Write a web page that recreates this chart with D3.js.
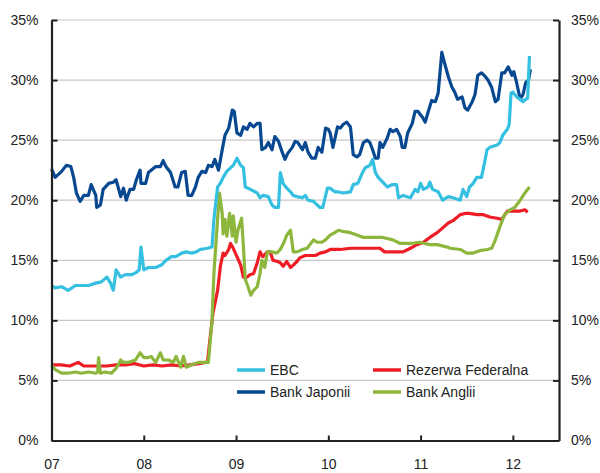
<!DOCTYPE html>
<html><head><meta charset="utf-8">
<script src="https://cdn.jsdelivr.net/npm/d3@7"></script>
<style>
html,body{margin:0;padding:0;background:#fff;}
svg{display:block;font-family:"Liberation Sans",Arial,sans-serif;}
</style></head>
<body><svg id="c" width="600" height="473"></svg>
<script>
// ---- data (decimal year, % ) ----
const xTickYears = [2007, 2008, 2009, 2010, 2011, 2012];
const xTickLabels = ["07", "08", "09", "10", "11", "12"];
const yTicks = [0, 5, 10, 15, 20, 25, 30, 35];
const seriesNames = ["EBC", "Bank Japonii", "Rezerwa Federalna", "Bank Anglii"];
const seriesColors = ["#35BFE0", "#084891", "#EE1C25", "#8DB63C"];

const ebcData = [
[2007.00,12.9],[2007.04,12.7],[2007.11,12.8],[2007.18,12.5],[2007.26,12.9],[2007.32,12.9],[2007.40,12.9],
[2007.48,13.1],[2007.54,13.2],[2007.60,13.6],[2007.64,13.1],[2007.67,12.5],[2007.70,14.2],[2007.75,13.6],
[2007.80,13.8],[2007.87,13.8],[2007.92,14.0],[2007.95,14.2],[2007.97,16.1],[2008.00,14.2],[2008.05,14.4],
[2008.13,14.4],[2008.19,14.6],[2008.24,15.0],[2008.30,15.3],[2008.34,15.3],[2008.37,15.4],[2008.41,15.6],
[2008.46,15.7],[2008.52,15.6],[2008.57,15.7],[2008.61,15.9],[2008.69,16.0],[2008.74,16.1],[2008.76,18.4],
[2008.80,21.1],[2008.83,21.4],[2008.86,21.9],[2008.90,22.4],[2008.94,22.7],[2008.97,22.9],[2009.01,23.5],
[2009.05,22.9],[2009.08,22.7],[2009.10,21.1],[2009.13,21.0],[2009.18,20.8],[2009.23,20.6],[2009.26,20.2],
[2009.29,20.4],[2009.35,20.3],[2009.39,19.6],[2009.42,19.4],[2009.46,19.4],[2009.48,22.3],[2009.51,21.4],
[2009.55,21.0],[2009.59,20.7],[2009.62,20.4],[2009.66,20.3],[2009.72,20.2],[2009.75,20.4],[2009.78,20.0],
[2009.84,19.9],[2009.88,19.6],[2009.91,19.4],[2009.94,19.4],[2009.99,21.0],[2010.02,21.0],[2010.07,20.7],
[2010.10,20.7],[2010.16,20.6],[2010.24,20.7],[2010.27,21.3],[2010.32,21.4],[2010.37,22.3],[2010.40,22.7],
[2010.45,22.9],[2010.48,23.4],[2010.51,22.3],[2010.54,21.9],[2010.59,21.5],[2010.64,21.1],[2010.69,21.3],
[2010.74,21.3],[2010.76,20.2],[2010.81,20.4],[2010.89,20.2],[2010.94,20.9],[2010.97,20.7],[2011.00,21.4],
[2011.03,20.9],[2011.08,21.1],[2011.10,21.5],[2011.13,20.9],[2011.19,20.7],[2011.24,20.0],[2011.30,20.3],
[2011.35,20.2],[2011.43,20.0],[2011.46,20.9],[2011.50,20.3],[2011.53,21.1],[2011.57,21.4],[2011.61,21.9],
[2011.66,21.9],[2011.70,23.4],[2011.72,24.2],[2011.75,24.4],[2011.83,24.6],[2011.86,24.8],[2011.89,25.4],
[2011.94,25.9],[2011.96,26.3],[2011.98,28.9],[2012.00,29.0],[2012.04,28.6],[2012.08,28.4],[2012.11,28.2],
[2012.14,28.4],[2012.16,28.5],[2012.18,32.0]
];

const bojData = [
[2007.00,22.6],[2007.04,21.9],[2007.11,22.4],[2007.16,22.9],[2007.21,22.8],[2007.24,21.9],[2007.27,20.6],
[2007.31,19.9],[2007.35,20.4],[2007.40,20.4],[2007.43,21.3],[2007.48,20.4],[2007.49,19.4],[2007.53,19.6],
[2007.56,20.9],[2007.62,21.4],[2007.67,21.5],[2007.70,21.7],[2007.75,20.3],[2007.78,21.0],[2007.81,20.0],
[2007.85,20.9],[2007.89,20.9],[2007.92,21.7],[2007.96,22.5],[2007.97,21.4],[2008.02,21.4],[2008.05,22.3],
[2008.13,22.8],[2008.18,22.8],[2008.21,23.3],[2008.24,22.8],[2008.29,22.3],[2008.34,21.1],[2008.37,21.1],
[2008.41,22.3],[2008.45,22.4],[2008.48,20.4],[2008.52,20.4],[2008.56,21.1],[2008.59,21.9],[2008.63,22.4],
[2008.67,22.3],[2008.70,22.9],[2008.74,22.8],[2008.77,23.4],[2008.81,22.5],[2008.85,24.2],[2008.88,25.4],
[2008.92,26.0],[2008.96,27.5],[2008.98,27.4],[2009.01,25.6],[2009.05,25.4],[2009.08,26.1],[2009.12,25.9],
[2009.15,26.4],[2009.19,26.1],[2009.23,26.4],[2009.26,26.4],[2009.28,24.2],[2009.32,24.4],[2009.35,24.8],
[2009.39,24.2],[2009.42,25.3],[2009.46,24.9],[2009.50,24.0],[2009.53,23.4],[2009.56,23.9],[2009.61,24.4],
[2009.64,24.9],[2009.67,24.8],[2009.72,24.2],[2009.75,24.8],[2009.78,24.0],[2009.82,23.5],[2009.86,23.5],
[2009.89,24.4],[2009.93,24.0],[2009.97,26.0],[2010.00,25.9],[2010.02,25.6],[2010.05,24.4],[2010.10,26.1],
[2010.13,26.0],[2010.16,26.3],[2010.20,26.5],[2010.24,26.1],[2010.27,23.8],[2010.31,23.6],[2010.34,23.8],
[2010.38,24.8],[2010.42,25.0],[2010.45,24.8],[2010.48,24.2],[2010.51,23.5],[2010.54,23.5],[2010.56,24.8],
[2010.59,24.4],[2010.64,25.2],[2010.67,25.9],[2010.70,25.7],[2010.74,25.9],[2010.78,25.3],[2010.80,24.4],
[2010.83,24.4],[2010.86,25.6],[2010.91,26.4],[2010.94,27.4],[2010.97,27.4],[2011.02,26.9],[2011.05,26.5],
[2011.08,27.3],[2011.12,28.3],[2011.16,28.2],[2011.19,28.9],[2011.23,32.3],[2011.26,31.4],[2011.30,30.3],
[2011.34,29.4],[2011.37,29.0],[2011.40,28.4],[2011.45,28.6],[2011.48,27.7],[2011.51,27.5],[2011.56,28.2],
[2011.59,28.8],[2011.62,30.4],[2011.66,30.6],[2011.70,30.3],[2011.73,30.0],[2011.77,29.4],[2011.81,28.2],
[2011.84,28.4],[2011.88,30.6],[2011.91,30.6],[2011.95,31.1],[2011.99,30.4],[2012.01,30.7],[2012.04,29.8],
[2012.08,28.4],[2012.11,28.8],[2012.14,29.8],[2012.17,30.0],[2012.19,30.9]
];

const fedData = [
[2007.00,6.3],[2007.10,6.3],[2007.20,6.2],[2007.29,6.5],[2007.35,6.2],[2007.50,6.2],[2007.60,6.2],
[2007.70,6.3],[2007.80,6.3],[2007.90,6.4],[2008.00,6.2],[2008.10,6.3],[2008.20,6.2],[2008.30,6.3],
[2008.40,6.2],[2008.50,6.3],[2008.60,6.4],[2008.67,6.5],[2008.69,6.5],[2008.72,8.6],[2008.75,10.6],
[2008.80,12.5],[2008.83,14.5],[2008.86,15.6],[2008.88,15.4],[2008.92,15.9],[2008.94,16.4],[2008.97,16.0],
[2009.01,15.3],[2009.05,14.6],[2009.08,13.6],[2009.12,13.6],[2009.15,13.8],[2009.19,13.9],[2009.23,14.8],
[2009.26,15.7],[2009.29,15.3],[2009.34,15.7],[2009.37,15.7],[2009.40,15.0],[2009.45,14.9],[2009.48,14.8],
[2009.51,14.5],[2009.55,14.9],[2009.59,14.4],[2009.62,14.6],[2009.66,14.9],[2009.69,15.2],[2009.75,15.4],
[2009.80,15.4],[2009.86,15.4],[2009.91,15.6],[2009.97,15.7],[2010.02,15.9],[2010.13,15.9],[2010.24,16.0],
[2010.34,16.0],[2010.45,16.0],[2010.56,16.0],[2010.61,15.7],[2010.74,15.7],[2010.81,15.7],[2010.89,16.0],
[2010.96,16.3],[2011.03,16.5],[2011.10,16.9],[2011.18,17.3],[2011.24,17.7],[2011.30,18.1],[2011.35,18.3],
[2011.43,18.8],[2011.48,18.9],[2011.53,18.9],[2011.61,18.8],[2011.68,18.8],[2011.75,18.6],[2011.83,18.5],
[2011.88,18.4],[2011.94,19.1],[2012.00,19.1],[2012.08,19.1],[2012.13,19.2],[2012.16,19.0]
];

const boeData = [
[2007.00,6.3],[2007.04,5.9],[2007.11,5.6],[2007.18,5.6],[2007.26,5.7],[2007.32,5.6],[2007.40,5.7],
[2007.48,5.6],[2007.50,5.7],[2007.51,6.9],[2007.53,5.6],[2007.58,5.7],[2007.65,5.6],[2007.70,6.0],
[2007.75,6.7],[2007.78,6.5],[2007.83,6.5],[2007.91,6.7],[2007.96,7.3],[2008.00,6.9],[2008.05,6.9],
[2008.08,7.0],[2008.13,6.5],[2008.18,7.3],[2008.21,6.7],[2008.27,6.7],[2008.32,6.5],[2008.35,7.0],
[2008.40,6.1],[2008.43,7.0],[2008.46,6.1],[2008.52,6.3],[2008.59,6.5],[2008.67,6.5],[2008.70,6.5],
[2008.74,10.0],[2008.76,13.9],[2008.80,18.4],[2008.82,20.6],[2008.85,18.9],[2008.86,17.2],[2008.88,18.4],
[2008.90,17.0],[2008.93,18.9],[2008.96,17.0],[2008.97,18.7],[2009.00,16.5],[2009.02,17.5],[2009.06,18.5],
[2009.08,16.1],[2009.10,13.4],[2009.13,12.8],[2009.16,12.1],[2009.19,12.5],[2009.23,12.8],[2009.26,13.9],
[2009.28,15.0],[2009.31,14.4],[2009.34,15.7],[2009.39,15.7],[2009.44,15.6],[2009.48,15.9],[2009.52,16.5],
[2009.55,17.1],[2009.59,17.5],[2009.62,15.7],[2009.66,15.7],[2009.72,15.9],[2009.77,16.0],[2009.80,16.3],
[2009.84,16.7],[2009.88,16.5],[2009.93,16.5],[2009.97,16.7],[2010.02,17.1],[2010.07,17.3],[2010.11,17.5],
[2010.16,17.4],[2010.24,17.3],[2010.31,17.1],[2010.38,16.9],[2010.48,16.9],[2010.59,16.9],[2010.70,16.7],
[2010.78,16.4],[2010.89,16.4],[2010.99,16.5],[2011.10,16.3],[2011.18,16.3],[2011.29,16.1],[2011.32,16.0],
[2011.43,15.9],[2011.50,15.6],[2011.57,15.6],[2011.64,15.8],[2011.72,15.9],[2011.77,16.0],[2011.81,16.7],
[2011.86,17.8],[2011.91,18.8],[2011.97,19.2],[2012.02,19.4],[2012.08,20.0],[2012.13,20.6],[2012.18,21.1]
];

// ---- drawing ----
const svg = d3.select("#c");
const padL = 51.5, padR = 559, padT = 20, padB = 440.5;
const x = d3.scaleLinear().domain([2007, 2012.5]).range([padL, padR]);
const y = d3.scaleLinear().domain([0, 35]).range([padB, padT]);

// gridlines
svg.append("g").selectAll("line").data(yTicks.filter(d => d > 0)).join("line")
  .attr("x1", padL).attr("x2", padR)
  .attr("y1", d => y(d)).attr("y2", d => y(d))
  .attr("stroke", "#c8c8c8").attr("stroke-width", 1.2);

const lineGen = d3.line().x(d => x(d[0])).y(d => y(d[1]));
const drawOrder = [[fedData, 2], [boeData, 3], [bojData, 1], [ebcData, 0]];
svg.append("g").selectAll("path").data(drawOrder).join("path")
  .attr("d", d => lineGen(d[0]))
  .attr("fill", "none")
  .attr("stroke", d => seriesColors[d[1]])
  .attr("stroke-width", 3.2)
  .attr("stroke-linejoin", "round");

// axes
const fmt = d => d + "%";
const yl = svg.append("g").attr("transform", `translate(${padL},0)`)
  .call(d3.axisLeft(y).tickValues(yTicks).tickFormat(fmt).tickSizeInner(-6).tickSizeOuter(0).tickPadding(13));
const yr = svg.append("g").attr("transform", `translate(${padR},0)`)
  .call(d3.axisRight(y).tickValues(yTicks).tickFormat(fmt).tickSizeInner(-6).tickSizeOuter(0).tickPadding(12));
const xb = svg.append("g").attr("transform", `translate(0,${padB})`)
  .call(d3.axisBottom(x).tickValues(xTickYears).tickFormat((d, i) => xTickLabels[i]).tickSizeInner(-5).tickSizeOuter(0).tickPadding(19));
[yl, yr, xb].forEach(g => {
  g.select(".domain").attr("stroke", "#222").attr("stroke-width", 2.2);
  g.selectAll(".tick line").attr("stroke", "#222").attr("stroke-width", 2);
  g.selectAll(".tick text").attr("fill", "#222").attr("font-size", 14)
    .attr("font-family", '"Liberation Sans",Arial,sans-serif');
});
xb.selectAll(".tick").filter(d => d === 2007).select("line").remove();
xb.selectAll(".tick text").attr("dy", "0.71em");

// legend
const legendPos = [[237, 370], [237, 392], [373, 370], [373, 392]];
const lg = svg.append("g").selectAll("g").data(seriesNames).join("g")
  .attr("transform", (d, i) => `translate(${legendPos[i][0]},${legendPos[i][1]})`);
lg.append("line").attr("x1", 0).attr("x2", 28).attr("y1", 0).attr("y2", 0)
  .attr("stroke", (d, i) => seriesColors[i]).attr("stroke-width", 3.5);
lg.append("text").attr("x", 33).attr("y", 0).attr("dy", "0.35em")
  .attr("font-size", 14).attr("fill", "#222").text(d => d);
</script></body></html>
